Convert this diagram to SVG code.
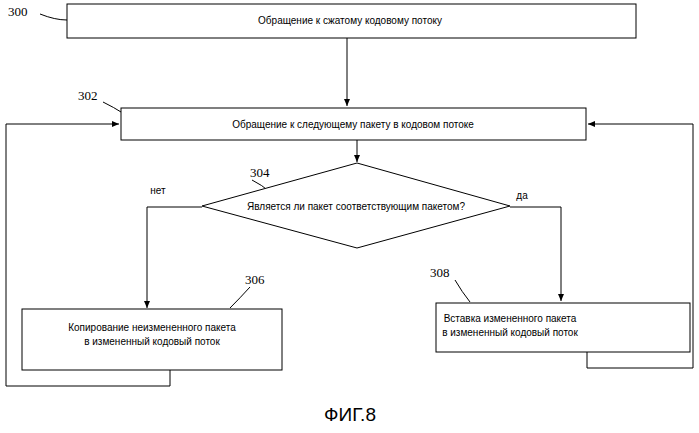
<svg xmlns="http://www.w3.org/2000/svg" width="699" height="433" viewBox="0 0 699 433">
<style>
.b{fill:#fff;stroke:#000;stroke-width:1}
.t{font-family:"Liberation Sans",Arial,sans-serif;font-size:10px;fill:#000;text-anchor:middle}
.n{font-family:"Liberation Serif",serif;font-size:13px;fill:#000}
.c{fill:none;stroke:#000;stroke-width:1}
</style>
<defs><marker id="a" markerWidth="8" markerHeight="8" refX="7" refY="4" orient="auto" markerUnits="userSpaceOnUse"><path d="M0,1 L7,4 L0,7 Z" fill="#000"/></marker></defs>
<rect width="699" height="433" fill="#fff"/>
<g id="connectors">
<path class="c" d="M347,38 V106" marker-end="url(#a)"/>
<path class="c" d="M357,140 V162" marker-end="url(#a)"/>
<path class="c" d="M202,207 H147 V308" marker-end="url(#a)"/>
<path class="c" d="M510,207 H561 V301" marker-end="url(#a)"/>
<path class="c" d="M170,370 V386 H6 V124 H119" marker-end="url(#a)"/>
<path class="c" d="M587,352 V368 H693 V124 H588" marker-end="url(#a)"/>
<path class="c" d="M40,14 Q55,20 67,20"/>
<path class="c" d="M103,102 Q115,108 121,112"/>
<path class="c" d="M252,180 Q262,185 270,192"/>
<path class="c" d="M250,287 Q240,298 230,308"/>
<path class="c" d="M455,280 Q462,292 470,302"/>
</g>
<g id="n300"><rect class="b" x="67" y="4" width="569" height="34"/><text class="t" x="350" y="24">Обращение к сжатому кодовому потоку</text><text class="n" x="8" y="16">300</text></g>
<g id="n302"><rect class="b" x="121" y="108" width="465" height="32"/><text class="t" x="353" y="128">Обращение к следующему пакету в кодовом потоке</text><text class="n" x="78" y="100">302</text></g>
<g id="n304"><polygon class="b" points="357,163 510,206 357,248 202,206"/><text class="t" x="356" y="210">Является ли пакет соответствующим пакетом?</text><text class="n" x="250" y="177">304</text><text class="t" x="158" y="194">нет</text><text class="t" x="522" y="199">да</text></g>
<g id="n306"><rect class="b" x="22" y="309" width="260" height="61"/><text class="t" x="152" y="331">Копирование неизмененного пакета</text><text class="t" x="152" y="345">в измененный кодовый поток</text><text class="n" x="245" y="284">306</text></g>
<g id="n308"><rect class="b" x="436" y="303" width="254" height="49"/><text class="t" x="510" y="322">Вставка измененного пакета</text><text class="t" x="510" y="336">в измененный кодовый поток</text><text class="n" x="430" y="277">308</text></g>
<text x="350" y="421" style="font-family:'Liberation Sans',Arial,sans-serif;font-size:19px;text-anchor:middle">ФИГ.8</text>
</svg>
